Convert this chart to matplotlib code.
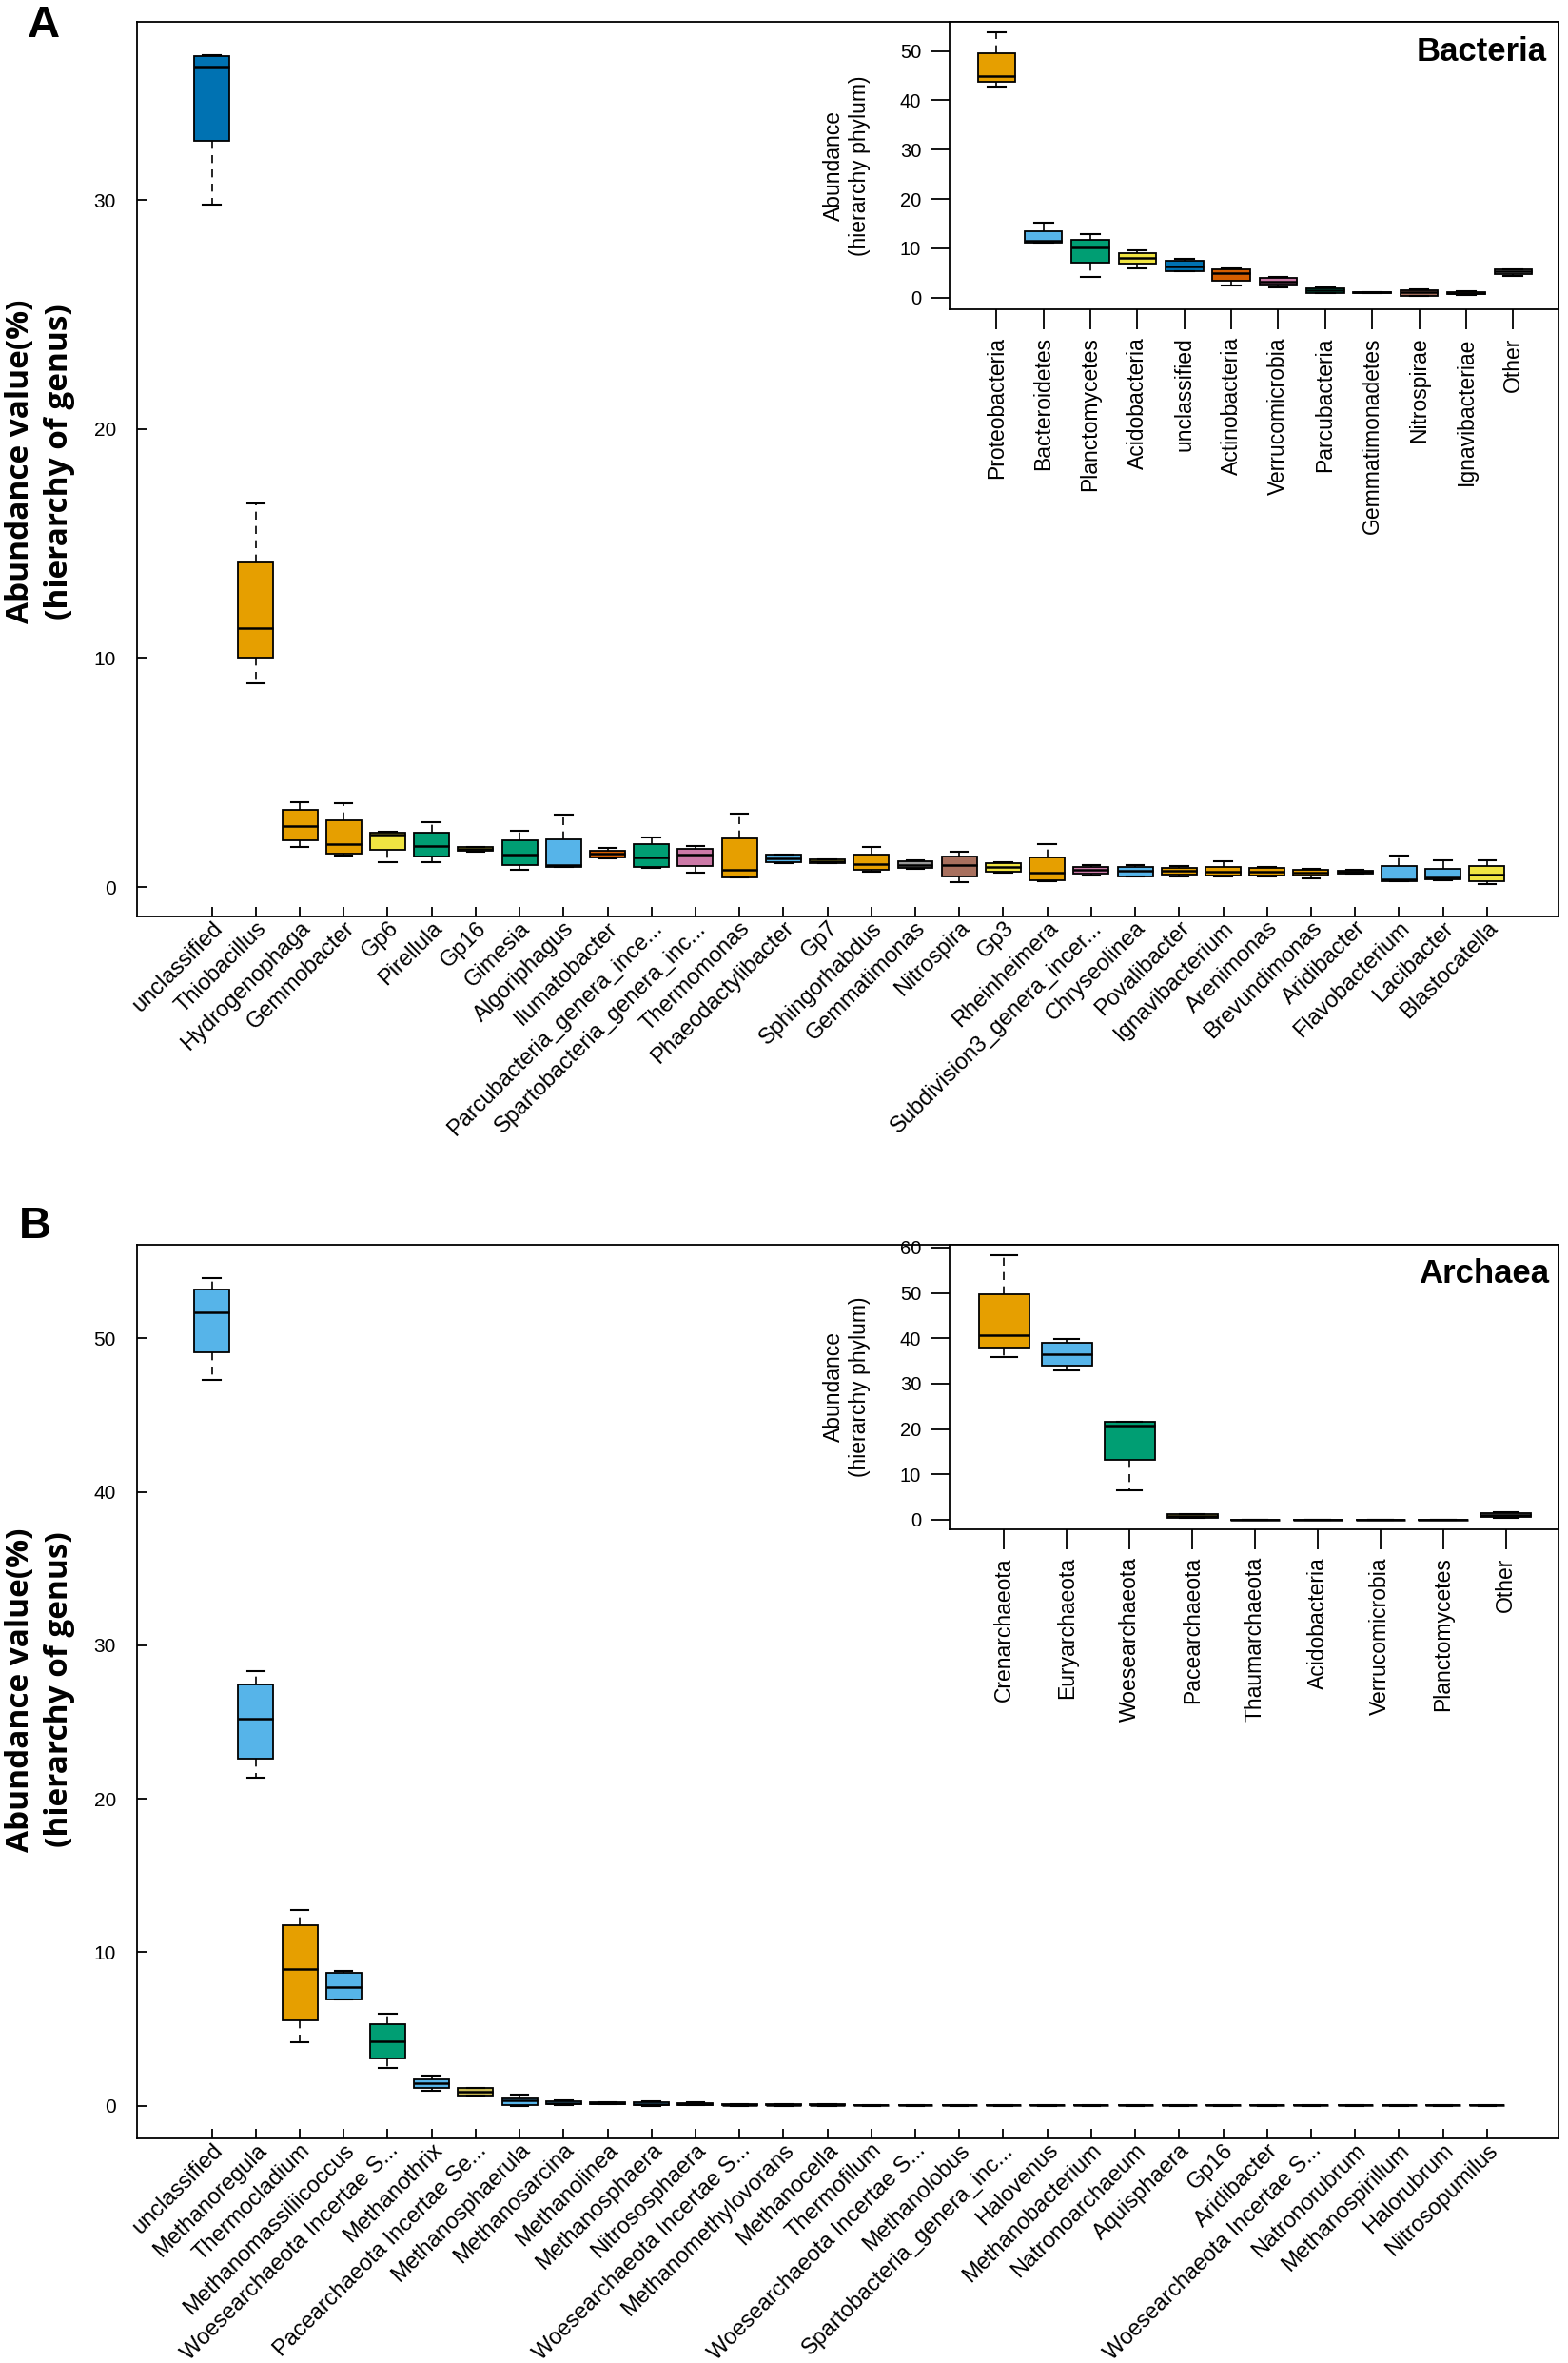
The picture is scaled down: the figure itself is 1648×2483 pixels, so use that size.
import matplotlib
matplotlib.use("Agg")
import matplotlib.pyplot as plt
import matplotlib.transforms as mtransforms

plt.rcParams['font.family'] = ['Liberation Sans', 'DejaVu Sans']

# ---- panel A: genus level (bacteria) ----
genus_a = ["unclassified", "Thiobacillus", "Hydrogenophaga", "Gemmobacter", "Gp6",
           "Pirellula", "Gp16", "Gimesia", "Algoriphagus", "Ilumatobacter",
           "Parcubacteria_genera_ince...", "Spartobacteria_genera_inc...", "Thermomonas",
           "Phaeodactylibacter", "Gp7", "Sphingorhabdus", "Gemmatimonas", "Nitrospira",
           "Gp3", "Rheinheimera", "Subdivision3_genera_incer...", "Chryseolinea",
           "Povalibacter", "Ignavibacterium", "Arenimonas", "Brevundimonas",
           "Aridibacter", "Flavobacterium", "Lacibacter", "Blastocatella"]
lo_a = [29.8, 8.9, 1.75, 1.37, 1.10, 1.07, 1.56, 0.77, 0.86, 1.26, 0.82, 0.62, 0.40, 1.05, 1.05,
        0.67, 0.80, 0.21, 0.63, 0.25, 0.52, 0.46, 0.46, 0.47, 0.48, 0.39, 0.57, 0.25, 0.31, 0.13]
q1_a = [32.6, 10.0, 2.02, 1.47, 1.62, 1.35, 1.58, 0.95, 0.89, 1.29, 0.89, 0.92, 0.43, 1.07, 1.06,
        0.76, 0.83, 0.48, 0.65, 0.31, 0.59, 0.48, 0.56, 0.49, 0.51, 0.51, 0.58, 0.27, 0.33, 0.27]
med_a = [35.8, 11.32, 2.66, 1.87, 2.27, 1.81, 1.66, 1.40, 0.98, 1.47, 1.31, 1.41, 0.76, 1.25, 1.13,
         1.00, 0.98, 0.97, 0.86, 0.61, 0.74, 0.70, 0.70, 0.68, 0.68, 0.61, 0.65, 0.34, 0.43, 0.56]
q3_a = [36.27, 14.16, 3.36, 2.91, 2.38, 2.39, 1.73, 2.04, 2.07, 1.60, 1.89, 1.68, 2.12, 1.41, 1.21,
        1.41, 1.13, 1.32, 1.03, 1.31, 0.89, 0.89, 0.83, 0.88, 0.83, 0.76, 0.73, 0.91, 0.80, 0.91]
hi_a = [36.33, 16.75, 3.71, 3.66, 2.42, 2.85, 1.75, 2.45, 3.15, 1.71, 2.17, 1.81, 3.21, 1.43, 1.22,
        1.75, 1.17, 1.53, 1.10, 1.87, 0.97, 0.94, 0.92, 1.13, 0.89, 0.78, 0.75, 1.38, 1.16, 1.16]

# ---- panel A inset: phylum level ----
phylum_a = ["Proteobacteria", "Bacteroidetes", "Planctomycetes", "Acidobacteria", "unclassified",
            "Actinobacteria", "Verrucomicrobia", "Parcubacteria", "Gemmatimonadetes",
            "Nitrospirae", "Ignavibacteriae", "Other"]
plo_a = [42.8, 11.1, 4.1, 5.9, 5.3, 2.5, 2.0, 0.9, 0.9, 0.3, 0.5, 4.3]
pq1_a = [43.8, 11.2, 7.1, 6.9, 5.3, 3.4, 2.6, 0.9, 0.95, 0.4, 0.6, 4.8]
pmed_a = [45.0, 11.5, 10.2, 8.1, 6.2, 5.0, 3.2, 1.4, 1.0, 1.0, 0.8, 5.4]
pq3_a = [49.5, 13.4, 11.7, 9.0, 7.4, 5.7, 3.9, 1.9, 1.05, 1.5, 1.1, 5.7]
phi_a = [53.8, 15.2, 12.8, 9.5, 7.8, 5.9, 4.1, 2.1, 1.1, 1.6, 1.2, 5.8]

# ---- panel B: genus level (archaea) ----
genus_b = ["unclassified", "Methanoregula", "Thermocladium", "Methanomassiliicoccus",
           "Woesearchaeota Incertae S...", "Methanothrix", "Pacearchaeota Incertae Se...",
           "Methanosphaerula", "Methanosarcina", "Methanolinea", "Methanosphaera",
           "Nitrososphaera", "Woesearchaeota Incertae S...", "Methanomethylovorans",
           "Methanocella", "Thermofilum", "Woesearchaeota Incertae S...", "Methanolobus",
           "Spartobacteria_genera_inc...", "Halovenus", "Methanobacterium", "Natronoarchaeum",
           "Aquisphaera", "Gp16", "Aridibacter", "Woesearchaeota Incertae S...",
           "Natronorubrum", "Methanospirillum", "Halorubrum", "Nitrosopumilus"]
lo_b = [47.3, 21.4, 4.16, 6.91, 2.45, 0.99, 0.64, 0.0, 0.06, 0.07, 0.0, 0.03, 0.0, 0.0, 0.0,
        0.0, 0.0, 0.0, 0.0, 0.0, 0.0, 0.0, 0.0, 0.0, 0.0, 0.0, 0.0, 0.0, 0.0, 0.0]
q1_b = [49.1, 22.6, 5.58, 6.91, 3.05, 1.18, 0.64, 0.06, 0.09, 0.09, 0.01, 0.04, 0.01, 0.01, 0.01,
        0.01, 0.01, 0.01, 0.01, 0.01, 0.01, 0.01, 0.01, 0.01, 0.01, 0.01, 0.01, 0.01, 0.01, 0.01]
med_b = [51.7, 25.2, 8.93, 7.73, 4.18, 1.46, 0.90, 0.34, 0.19, 0.15, 0.09, 0.13, 0.04, 0.04, 0.04,
         0.02, 0.02, 0.02, 0.02, 0.02, 0.02, 0.02, 0.02, 0.02, 0.02, 0.02, 0.02, 0.02, 0.02, 0.02]
q3_b = [53.2, 27.45, 11.76, 8.65, 5.32, 1.74, 1.16, 0.49, 0.28, 0.21, 0.24, 0.19, 0.08, 0.07, 0.07,
        0.04, 0.04, 0.04, 0.04, 0.04, 0.04, 0.04, 0.04, 0.04, 0.04, 0.04, 0.04, 0.04, 0.04, 0.04]
hi_b = [53.96, 28.3, 12.77, 8.8, 5.99, 1.93, 1.16, 0.69, 0.34, 0.22, 0.26, 0.20, 0.09, 0.08, 0.08,
        0.05, 0.05, 0.05, 0.05, 0.05, 0.05, 0.05, 0.05, 0.05, 0.05, 0.05, 0.05, 0.05, 0.05, 0.05]

# ---- panel B inset: phylum level ----
phylum_b = ["Crenarchaeota", "Euryarchaeota", "Woesearchaeota", "Pacearchaeota",
            "Thaumarchaeota", "Acidobacteria", "Verrucomicrobia", "Planctomycetes", "Other"]
plo_b = [35.8, 32.9, 6.5, 0.4, 0.03, 0.0, 0.0, 0.0, 0.4]
pq1_b = [37.9, 33.9, 13.2, 0.5, 0.05, 0.01, 0.01, 0.01, 0.6]
pmed_b = [40.7, 36.5, 20.8, 0.85, 0.07, 0.02, 0.02, 0.02, 1.0]
pq3_b = [49.8, 39.0, 21.5, 1.2, 0.09, 0.03, 0.03, 0.03, 1.5]
phi_b = [58.2, 39.8, 21.6, 1.3, 0.1, 0.04, 0.04, 0.04, 1.7]

# colours (okabe-ito like palette, by phylum)
OR, LB, GR, YE, BL, VE, PK = "#E69F00", "#56B4E9", "#009E73", "#F0E442", "#0072B2", "#D55E00", "#CC79A7"
BR, GY, KH = "#A8705E", "#999999", "#CDBD55"
col_a = [BL, OR, OR, OR, YE, GR, YE, GR, LB, VE, GR, PK, OR, LB, YE, OR, GY, BR, YE, OR,
         PK, LB, OR, OR, OR, OR, YE, LB, LB, YE]
pcol_a = [OR, LB, GR, YE, BL, VE, PK, GR, GY, BR, OR, GY]
col_b = [LB, LB, OR, LB, GR, LB, KH, LB, LB, LB, LB, GY, GR, LB, LB, OR, GR, LB, PK, LB,
         LB, LB, GR, YE, YE, GR, LB, LB, LB, GY]
pcol_b = [OR, LB, GR, KH, GY, YE, PK, GR, GY]


def draw_boxes(ax, lo, q1, med, q3, hi, colors):
    stats = []
    for a, b, c, d, e in zip(lo, q1, med, q3, hi):
        stats.append(dict(whislo=a, q1=b, med=c, q3=d, whishi=e))
    bp = ax.bxp(stats, positions=range(1, len(stats) + 1), widths=0.8, capwidths=0.4,
                patch_artist=True, showfliers=False, manage_ticks=False,
                boxprops=dict(linewidth=1.3, edgecolor='black'),
                medianprops=dict(color='black', linewidth=1.8),
                whiskerprops=dict(color='black', linewidth=1.2, linestyle=(0, (5, 4))),
                capprops=dict(color='black', linewidth=1.5))
    for patch, c in zip(bp['boxes'], colors):
        patch.set_facecolor(c)


def main_axes(fig, rect, names, lo, q1, med, q3, hi, colors, ylim, yticks):
    ax = fig.add_axes(rect)
    draw_boxes(ax, lo, q1, med, q3, hi, colors)
    ax.set_xlim(-0.70, 31.63)
    ax.set_ylim(*ylim)
    ax.set_yticks(yticks)
    ax.set_xticks(range(1, len(names) + 1))
    ax.set_xticklabels(names, rotation=45, ha='right', rotation_mode='anchor', fontsize=17)
    shift = mtransforms.ScaledTranslation(0.09, -0.02, fig.dpi_scale_trans)
    for lab in ax.get_xticklabels():
        lab.set_transform(lab.get_transform() + shift)
    ax.tick_params(direction='in', length=7, width=1.3, labelsize=15)
    ax.tick_params(axis='x', pad=1, labelsize=17)
    ax.tick_params(axis='y', pad=16)
    for s in ax.spines.values():
        s.set_linewidth(1.3)
    return ax


def inset_axes(fig, rect, names, lo, q1, med, q3, hi, colors, xlim, ylim, yticks):
    ax = fig.add_axes(rect)
    ax.set_facecolor('white')
    draw_boxes(ax, lo, q1, med, q3, hi, colors)
    ax.set_xlim(*xlim)
    ax.set_ylim(*ylim)
    ax.set_yticks(yticks)
    ax.set_xticks(range(1, len(names) + 1))
    ax.set_xticklabels(names, rotation=90, fontsize=16.5)
    ax.tick_params(axis='x', direction='out', length=15, width=1.3, pad=6)
    ax.tick_params(axis='y', direction='out', length=13.5, width=1.3, pad=8, labelsize=14.5)
    for s in ax.spines.values():
        s.set_linewidth(1.3)
    return ax


fig = plt.figure(figsize=(16.48, 24.83), dpi=100)

# panel A
main_axes(fig, [0.0874, 0.6122, 0.9066, 0.3786], genus_a, lo_a, q1_a, med_a, q3_a, hi_a,
          col_a, (-1.28, 37.78), [0, 10, 20, 30])
inset_axes(fig, [0.6056, 0.8691, 0.3884, 0.1216], phylum_a, plo_a, pq1_a, pmed_a, pq3_a, phi_a,
           pcol_a, (0.0, 12.97), (-2.4, 55.9), [0, 10, 20, 30, 40, 50])

# panel B
main_axes(fig, [0.0874, 0.0950, 0.9066, 0.3782], genus_b, lo_b, q1_b, med_b, q3_b, hi_b,
          col_b, (-2.14, 56.1), [0, 10, 20, 30, 40, 50])
inset_axes(fig, [0.6056, 0.3528, 0.3884, 0.1204], phylum_b, plo_b, pq1_b, pmed_b, pq3_b, phi_b,
           pcol_b, (0.13, 9.84), (-2.1, 60.6), [0, 10, 20, 30, 40, 50, 60])

# axis titles
ylab_font = dict(family=['Open Sans', 'DejaVu Sans'], fontweight='bold', fontsize=24)
fig.text(0.0255, 0.8047, "Abundance value(%)\n(hierarchy of genus)", rotation=90,
         ha='center', va='center', multialignment='center', linespacing=1.3, **ylab_font)
fig.text(0.0255, 0.2850, "Abundance value(%)\n(hierarchy of genus)", rotation=90,
         ha='center', va='center', multialignment='center', linespacing=1.3, **ylab_font)
fig.text(0.540, 0.930, "Abundance\n(hierarchy phylum)", rotation=90, ha='center', va='center',
         multialignment='center', linespacing=1.2, fontsize=16.5)
fig.text(0.540, 0.4132, "Abundance\n(hierarchy phylum)", rotation=90, ha='center', va='center',
         multialignment='center', linespacing=1.2, fontsize=16.5)

# panel letters and group names
cond = ['Liberation Sans Narrow', 'Liberation Sans', 'DejaVu Sans']
fig.text(0.0176, 0.9843, "A", family=cond, fontweight='bold', fontsize=34, va='baseline')
fig.text(0.0120, 0.4760, "B", family=cond, fontweight='bold', fontsize=34, va='baseline')
fig.text(0.9866, 0.9742, "Bacteria", family=cond, fontweight='bold', fontsize=25,
         ha='right', va='baseline')
fig.text(0.9880, 0.4570, "Archaea", family=cond, fontweight='bold', fontsize=25,
         ha='right', va='baseline')

fig.savefig("out.png", dpi=100)
